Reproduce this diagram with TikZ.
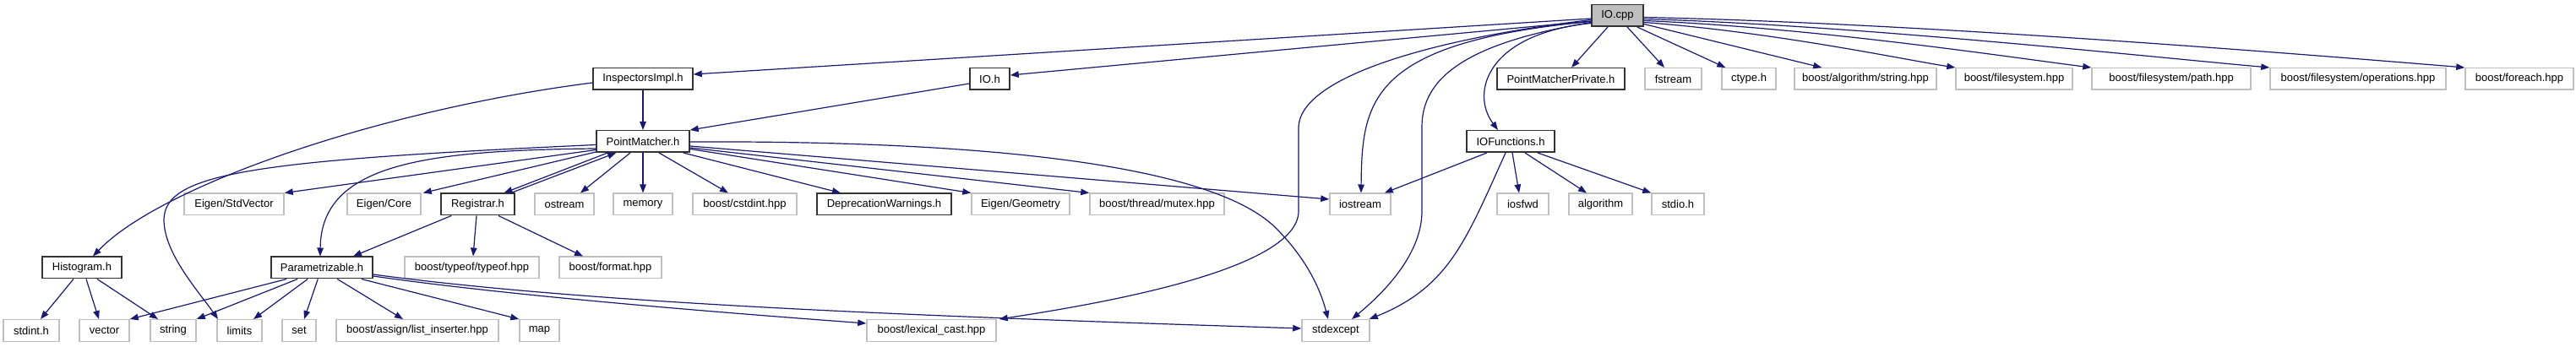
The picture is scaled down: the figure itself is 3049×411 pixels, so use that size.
\documentclass[tikz,border=0pt]{standalone}
\usepackage{fontspec}
\setmainfont{Liberation Sans}
\usetikzlibrary{arrows.meta,calc}
\definecolor{mblue}{HTML}{191970}
\definecolor{gsev}{HTML}{BFBFBF}
\definecolor{dk}{HTML}{333333}
\newcommand\dxfont{\fontsize{13}{15}\selectfont}
\tikzset{
  file/.style={draw=gsev, line width=1.5pt, minimum height=25.5pt, inner sep=0pt, font=\dxfont, text=black},
  doc/.style={file, draw=dk},
  root/.style={doc, fill=gsev},
  edge/.style={draw=mblue, line width=1.2pt, -{Triangle[length=10pt,width=7.5pt]}}
}
\begin{document}
\begin{tikzpicture}[x=1pt,y=-1pt]
\useasboundingbox (0,0) rectangle (3049,411);
% row 0
\node[root, minimum width=61pt] (io) at (1914.5,18.5) {IO.cpp};
% row 1
\node[doc, minimum width=118pt] (insp) at (761,93.5) {InspectorsImpl.h};
\node[doc, minimum width=47pt] (ioh) at (1171.5,93.5) {IO.h};
\node[doc, minimum width=151pt] (pmp) at (1847.5,93.5) {PointMatcherPrivate.h};
\node[file, minimum width=67pt] (fstream) at (1980.5,93.5) {fstream};
\node[file, minimum width=64pt] (ctype) at (2070,93.5) {ctype.h};
\node[file, minimum width=168pt] (algstr) at (2208,93.5) {boost/algorithm/string.hpp};
\node[file, minimum width=138pt] (fs) at (2384,93.5) {boost/filesystem.hpp};
\node[file, minimum width=188pt] (fspath) at (2570,93.5) {boost/filesystem/path.hpp};
\node[file, minimum width=208pt] (fsops) at (2791,93.5) {boost/filesystem/operations.hpp};
\node[file, minimum width=128pt] (foreach) at (2982,93.5) {boost/foreach.hpp};
% row 2
\node[doc, minimum width=110pt] (pm) at (761,167.5) {PointMatcher.h};
\node[doc, minimum width=104pt] (iof) at (1788,167.5) {IOFunctions.h};
% row 3
\node[file, minimum width=118pt] (stdvec) at (277,242) {Eigen/StdVector};
\node[file, minimum width=87pt] (core) at (454.5,242) {Eigen/Core};
\node[doc, minimum width=87pt] (reg) at (565.5,242) {Registrar.h};
\node[file, minimum width=70pt] (ostream) at (668,242) {ostream};
\node[file, minimum width=70pt] (memory) at (761,242) {memory};
\node[file, minimum width=123pt] (cstdint) at (881.5,242) {boost/cstdint.hpp};
\node[doc, minimum width=159pt] (depr) at (1046.5,242) {DeprecationWarnings.h};
\node[file, minimum width=116pt] (geom) at (1208,242) {Eigen/Geometry};
\node[file, minimum width=159pt] (mutex) at (1369.5,242) {boost/thread/mutex.hpp};
\node[file, minimum width=72pt] (iostream) at (1610,242) {iostream};
\node[file, minimum width=61pt] (iosfwd) at (1802.5,242) {iosfwd};
\node[file, minimum width=75pt] (algorithm) at (1894.5,242) {algorithm};
\node[file, minimum width=62pt] (stdio) at (1986,242) {stdio.h};
% row 4
\node[doc, minimum width=94pt] (hist) at (97,317) {Histogram.h};
\node[doc, minimum width=120pt] (param) at (381,317) {Parametrizable.h};
\node[file, minimum width=159pt] (typeof) at (558.5,317) {boost/typeof/typeof.hpp};
\node[file, minimum width=121pt] (format) at (722.5,317) {boost/format.hpp};
% row 5
\node[file, minimum width=66pt] (stdint) at (37,391.5) {stdint.h};
\node[file, minimum width=59pt] (vector) at (123.5,391.5) {vector};
\node[file, minimum width=54pt] (string) at (205,391.5) {string};
\node[file, minimum width=53pt] (limits) at (283.5,391.5) {limits};
\node[file, minimum width=40pt] (set) at (354,391.5) {set};
\node[file, minimum width=192pt] (listins) at (494,391.5) {boost/assign/list\_inserter.hpp};
\node[file, minimum width=47pt] (map) at (638.5,391.5) {map};
\node[file, minimum width=153pt] (lexcast) at (1102.5,391.5) {boost/lexical\_cast.hpp};
\node[file, minimum width=80pt] (stdexcept) at (1581,391.5) {stdexcept};

% IO.cpp edges
\draw[edge] ($(io.west)+(0,3.5)$) -- ($(insp.east)+(0,-5.5)$);
\draw[edge] ($(io.west)+(0,6.5)$) -- ($(ioh.east)+(0,-4.5)$);
\draw[edge] ($(io.south)+(-11.5,0)$) -- ($(pmp.north)+(12.5,0)$);
\draw[edge] ($(io.south)+(11.5,0)$) -- ($(fstream.north)+(-10.5,0)$);
\draw[edge] ($(io.south east)+(-8,0)$) -- ($(ctype.north west)+(5,0)$);
\draw[edge] ($(io.east)+(0,10)$) -- ($(algstr.north west)+(33,0)$);
\draw[edge] ($(io.east)+(0,8)$) .. controls (2100,38) and (2250,70) .. (fs.north west);
\draw[edge] ($(io.east)+(0,6)$) .. controls (2150,33) and (2380,68) .. (fspath.north west);
\draw[edge] ($(io.east)+(0,4)$) .. controls (2200,30) and (2550,68) .. (fsops.north west);
\draw[edge] ($(io.east)+(0,2)$) .. controls (2250,27) and (2650,58) .. (foreach.north west);
\draw[edge] ($(io.west)+(0,9)$) .. controls (1760,40) and (1740,110) .. ($(iof.north)+(-15,0)$);
\draw[edge] ($(io.west)+(0,8)$) .. controls (1740,50) and (1683,90) .. (1683,150) -- (1683,250) .. controls (1683,300) and (1640,345) .. ($(stdexcept.north)+(19,0)$);
\draw[edge] ($(io.west)+(0,7)$) .. controls (1620,50) and (1612,120) .. ($(iostream.north)+(1,0)$);
\draw[edge] ($(io.west)+(0,5)$) .. controls (1700,45) and (1540,90) .. (1537,150) -- (1537,250) .. controls (1537,320) and (1300,360) .. ($(lexcast.north east)+(3,0)$);

% InspectorsImpl.h / IO.h
\draw[edge] (insp.south) -- (pm.north);
\draw[edge] ($(insp.west)+(0,4.5)$) .. controls (450,130) and (190,220) .. ($(hist.north)+(13,0)$);
\draw[edge] ($(ioh.west)+(0,5.5)$) -- (pm.north east);

% PointMatcher.h
\draw[edge] ($(pm.west)+(0,10)$) -- (stdvec.north east);
\draw[edge] ($(pm.south west)+(0,-1)$) -- ($(core.north east)+(2,0)$);
\draw[edge] ($(pm.south west)+(14,0)$) -- ($(reg.north)+(31,0)$);
\draw[edge] ($(reg.north east)+(-5,0)$) -- ($(pm.south west)+(24,0)$);
\draw[edge] ($(pm.south)+(-15,0)$) -- ($(ostream.north)+(19,0)$);
\draw[edge] (pm.south) -- (memory.north);
\draw[edge] ($(pm.south)+(19,0)$) -- ($(cstdint.north)+(-19.5,0)$);
\draw[edge] ($(pm.south east)+(-8,0)$) -- ($(depr.north)+(-51.5,0)$);
\draw[edge] ($(pm.east)+(0,9)$) -- (geom.north west);
\draw[edge] ($(pm.east)+(0,7.5)$) -- (mutex.north west);
\draw[edge] ($(pm.east)+(0,5.5)$) -- ($(iostream.west)+(0,-6)$);
\draw[edge] ($(pm.east)+(0,0.5)$) .. controls (1250,166) and (1450,210) .. (1510,270) .. controls (1545,305) and (1562,340) .. ($(stdexcept.north)+(-9,0)$);
\draw[edge] ($(pm.west)+(0,4)$) .. controls (300,190) and (195,205) .. (194,260) .. controls (194,300) and (235,345) .. ($(limits.north)+(-25.5,0)$);
\draw[edge] ($(pm.west)+(0,8.5)$) .. controls (500,178) and (380,195) .. ($(param.north)+(-2,0)$);

% Registrar.h
\draw[edge] ($(reg.south west)+(13,0)$) -- ($(param.north)+(37,0)$);
\draw[edge] ($(reg.south)+(-1.5,0)$) -- ($(typeof.north)+(1.5,0)$);
\draw[edge] ($(reg.south)+(24.5,0)$) -- ($(format.north)+(-32.5,0)$);

% Histogram.h
\draw[edge] ($(hist.south)+(-10,0)$) -- ($(stdint.north)+(11,0)$);
\draw[edge] ($(hist.south)+(5,0)$) -- ($(vector.north)+(-6.5,0)$);
\draw[edge] ($(hist.south)+(18,0)$) -- ($(string.north)+(-18,0)$);

% Parametrizable.h
\draw[edge] ($(param.south west)+(19,0)$) -- (vector.north east);
\draw[edge] ($(param.south west)+(32,0)$) -- (string.north east);
\draw[edge] ($(param.south west)+(44,0)$) -- ($(limits.north)+(16.5,0)$);
\draw[edge] ($(param.south west)+(56,0)$) -- ($(set.north)+(6,0)$);
\draw[edge] ($(param.south west)+(79,0)$) -- ($(listins.north)+(-17,0)$);
\draw[edge] ($(param.south east)+(-14,0)$) -- (map.north west);
\draw[edge] ($(param.east)+(0,10)$) .. controls (600,350) and (850,370) .. ($(lexcast.west)+(0,-8.5)$);
\draw[edge] ($(param.east)+(0,8)$) .. controls (700,360) and (1100,375) .. ($(stdexcept.west)+(0,-2.5)$);

% IOFunctions.h
\draw[edge] ($(iof.south)+(-28,0)$) -- ($(iostream.north east)+(-8,0)$);
\draw[edge] ($(iof.south)+(2,0)$) -- ($(iosfwd.north)+(-4.5,0)$);
\draw[edge] ($(iof.south)+(17,0)$) -- ($(algorithm.north)+(-16.5,0)$);
\draw[edge] ($(iof.south)+(32,0)$) -- (stdio.north west);
\draw[edge] ($(iof.south)+(-6,0)$) .. controls (1735,285) and (1715,340) .. ($(stdexcept.north east)+(-1,0)$);
\end{tikzpicture}
\end{document}
